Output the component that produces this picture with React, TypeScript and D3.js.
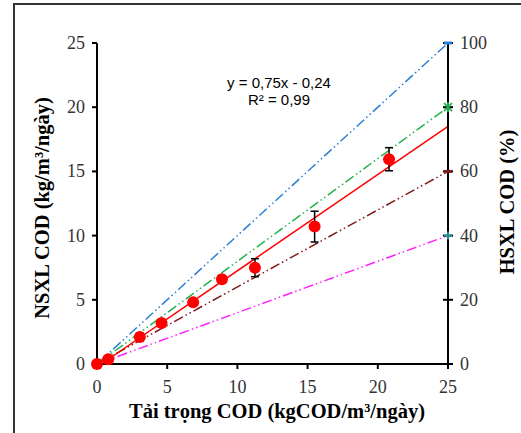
import React, { useEffect, useRef } from "react";
import * as d3 from "d3";

// loading rate (x) vs removal rate (y), with error bars
const loadX = [0, 0.8, 3.05, 4.6, 6.85, 8.9, 11.25, 15.5, 20.8];
const removalY = [0, 0.37, 2.1, 3.2, 4.8, 6.6, 7.5, 10.7, 15.95];
const errY = [0, 0.1, 0.3, 0.15, 0.2, 0.2, 0.7, 1.2, 0.9];

// reference efficiency lines (% of loading)
const refPct = [100, 80, 60, 40];
const refColors = ["#2a7fd4", "#22b14c", "#7f1a1a", "#ff22ff"];
const refMarkers = ["dash", "star", "dash", "plus"];
const refMarkerColors = ["#2a7fd4", "#22b14c", "#7f1a1a", "#1a9a9a"];

const fitSlope = 0.75;
const fitIntercept = -0.24;

const xTicks = [0, 5, 10, 15, 20, 25];
const yTicks = [0, 5, 10, 15, 20, 25];
const y2Ticks = [0, 20, 40, 60, 80, 100];

const SERIF = "'Liberation Serif'";
const SANS = "'Liberation Sans'";

export default function App() {
  const ref = useRef<SVGSVGElement>(null);

  useEffect(() => {
    const svg = d3.select(ref.current);
    svg.selectAll("*").remove();
    const W = 521, H = 433;
    const x = d3.scaleLinear().domain([0, 25]).range([97, 448]);
    const y = d3.scaleLinear().domain([0, 25]).range([364, 43]);
    const y2 = d3.scaleLinear().domain([0, 100]).range([364, 43]);

    // frame
    svg.append("path").attr("d", `M14,${H} L14,4 L${W},4`)
      .attr("fill", "none").attr("stroke", "#333").attr("stroke-width", 2);

    // reference lines
    refPct.forEach((p, i) => {
      const line = d3.line<number>().x(d => x(d)).y(d => y(d * p / 100));
      svg.append("path").attr("d", line([0, 25]))
        .attr("fill", "none").attr("stroke", refColors[i]).attr("stroke-width", 1.5)
        .attr("stroke-dasharray", "10,3,1.5,3,1.5,3");
    });

    // fitted line
    const x0 = -fitIntercept / fitSlope;
    const fit = d3.line<number>().x(d => x(d)).y(d => y(fitSlope * d + fitIntercept));
    svg.append("path").attr("d", fit([x0, 25]))
      .attr("fill", "none").attr("stroke", "#ff0000").attr("stroke-width", 1.5);

    // axes
    const ax = svg.append("g").attr("stroke", "#000").attr("stroke-width", 2);
    ax.append("line").attr("x1", x(0)).attr("x2", x(25)).attr("y1", y(0)).attr("y2", y(0));
    ax.append("line").attr("x1", x(0)).attr("x2", x(0)).attr("y1", y(0)).attr("y2", y(25));
    ax.append("line").attr("x1", x(25)).attr("x2", x(25)).attr("y1", y(0)).attr("y2", y(25));
    xTicks.forEach(t => ax.append("line").attr("x1", x(t)).attr("x2", x(t)).attr("y1", y(0)).attr("y2", y(0) + 5));
    yTicks.forEach(t => ax.append("line").attr("x1", x(0) - 5).attr("x2", x(0)).attr("y1", y(t)).attr("y2", y(t)));
    y2Ticks.forEach(t => ax.append("line").attr("x1", x(25) - 5).attr("x2", x(25) + 5).attr("y1", y2(t)).attr("y2", y2(t)));

    const tick = (tx: number, ty: number, anchor: string, s: number) =>
      svg.append("text").attr("x", tx).attr("y", ty).attr("text-anchor", anchor)
        .style("font-family", SERIF).style("font-size", "18px").attr("fill", "#333").text(s);
    xTicks.forEach(t => tick(x(t), y(0) + 29, "middle", t));
    yTicks.forEach(t => tick(x(0) - 12, y(t) + 6, "end", t));
    y2Ticks.forEach(t => tick(x(25) + 12, y2(t) + 6, "start", t));

    // reference markers at endpoints
    refPct.forEach((p, i) => {
      const c = refMarkerColors[i];
      [0, 25].forEach(v => {
        const cx = x(v), cy = y(v * p / 100);
        const g = svg.append("g").attr("stroke", c).attr("stroke-width", 1.8);
        if (refMarkers[i] === "dash") {
          g.append("line").attr("x1", cx - 4).attr("x2", cx + 4).attr("y1", cy).attr("y2", cy).attr("stroke-width", 3);
        } else if (refMarkers[i] === "star") {
          g.append("line").attr("x1", cx - 4).attr("x2", cx + 4).attr("y1", cy - 4).attr("y2", cy + 4);
          g.append("line").attr("x1", cx - 4).attr("x2", cx + 4).attr("y1", cy + 4).attr("y2", cy - 4);
          g.append("line").attr("x1", cx).attr("x2", cx).attr("y1", cy - 5).attr("y2", cy + 5);
        } else {
          g.append("line").attr("x1", cx - 4).attr("x2", cx + 4).attr("y1", cy).attr("y2", cy);
          g.append("line").attr("x1", cx).attr("x2", cx).attr("y1", cy - 4).attr("y2", cy + 4);
        }
      });
    });

    // error bars
    const eb = svg.append("g").attr("stroke", "#000").attr("stroke-width", 1.5);
    loadX.forEach((lx, i) => {
      if (errY[i] <= 0.1) return;
      const cx = x(lx);
      const top = y(removalY[i] + errY[i]), bot = y(removalY[i] - errY[i]);
      eb.append("line").attr("x1", cx).attr("x2", cx).attr("y1", top).attr("y2", bot);
      eb.append("line").attr("x1", cx - 4).attr("x2", cx + 4).attr("y1", top).attr("y2", top);
      eb.append("line").attr("x1", cx - 4).attr("x2", cx + 4).attr("y1", bot).attr("y2", bot);
    });

    // data points
    svg.append("g").selectAll("circle").data(loadX).join("circle")
      .attr("cx", d => x(d)).attr("cy", (_, i) => y(removalY[i])).attr("r", 6)
      .attr("fill", "#ff0000");

    // equation
    const eqText = (ty: number, s: string) =>
      svg.append("text").attr("x", 279).attr("y", ty).attr("text-anchor", "middle")
        .style("font-family", SANS).style("font-size", "15px").attr("fill", "#000").text(s);
    eqText(88, "y = 0,75x - 0,24");
    eqText(105, "R² = 0,99");

    // axis titles
    const title = (tr: string, s: string) =>
      svg.append("text").attr("transform", tr).attr("text-anchor", "middle")
        .style("font-family", SERIF).style("font-size", "20.5px").style("font-weight", "bold")
        .attr("fill", "#000").text(s);
    title("translate(277,418)", "Tải trọng COD (kgCOD/m³/ngày)");
    title("translate(49,208) rotate(-90)", "NSXL COD (kg/m³/ngày)");
    title("translate(514,202) rotate(-90)", "HSXL COD (%)");
  }, []);

  return <svg ref={ref} width={521} height={433} style={{ position: "absolute", left: 0, top: 0 }} />;
}
